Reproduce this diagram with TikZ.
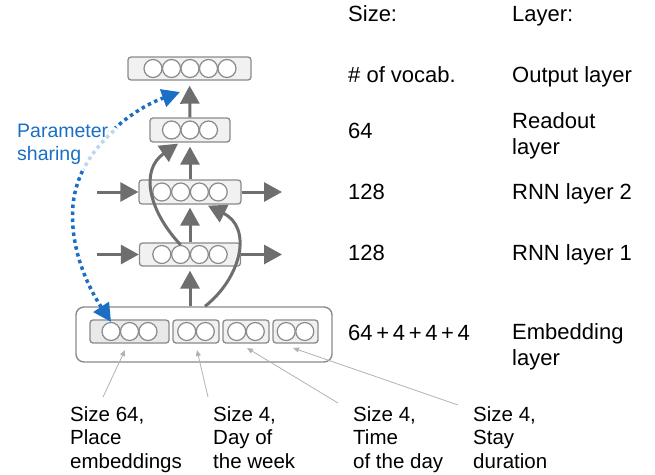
\documentclass[tikz,border=0pt]{standalone}
\usepackage{fontspec}
\setmainfont{Liberation Sans}
\usetikzlibrary{arrows.meta,calc}
\definecolor{arr}{HTML}{6E6E6E}
\definecolor{boxline}{HTML}{8A8A8A}
\definecolor{boxfill}{HTML}{F1F1F1}
\definecolor{boxfillb}{HTML}{E9E9E9}
\definecolor{pblue}{HTML}{1A6FC4}
\definecolor{plight}{HTML}{BCD7F0}
\definecolor{leadc}{HTML}{B2B2B2}
\tikzset{
  layerbox/.style={draw=boxline, fill=boxfill, line width=1.3pt, rounded corners=3pt, inner sep=0pt},
  unit/.style={circle, draw=boxline, fill=white, line width=1.2pt, minimum size=18pt, inner sep=0pt},
  flow/.style={draw=arr, line width=3pt, -{Triangle[length=18pt,width=19pt]}},
  pdots/.style={line width=3.5pt, dash pattern=on 3.5pt off 3.5pt},
  pshare/.style={draw=pblue, pdots, {Triangle[length=18pt,width=18pt]}-{Triangle[length=18pt,width=18pt]}},
  leader/.style={draw=leadc, line width=0.8pt, -{Triangle[length=6pt,width=5pt]}},
  coltext/.style={inner sep=0pt, font=\fontsize{22}{26.5}\selectfont, align=left},
  bottext/.style={inner sep=0pt, font=\fontsize{20.5}{23.5}\selectfont, align=left, anchor=north west},
  pstext/.style={inner sep=0pt, font=\fontsize{19.5}{23}\selectfont, align=left, text=pblue, anchor=north west}
}
\begin{document}
\begin{tikzpicture}[x=1pt,y=-1pt]
\useasboundingbox (0,0) rectangle (655,474);

% ---- layer boxes ----
\node[layerbox, minimum width=123pt, minimum height=23pt] (out) at (189.5,68.5) {};
\foreach \i/\x in {1/153,2/171.5,3/190,4/208.5,5/227} \node[unit] (o\i) at (\x,68.5) {};

\node[layerbox, minimum width=80pt, minimum height=24pt] (ro) at (190,130) {};
\foreach \i/\x in {1/171.5,2/190,3/208.5} \node[unit] (ru\i) at (\x,130) {};

\node[layerbox, minimum width=102pt, minimum height=24pt] (rnn2) at (190,192) {};
\foreach \i/\x in {1/161.8,2/180.6,3/199.4,4/218.2} \node[unit] (r2u\i) at (\x,192) {};

\node[layerbox, minimum width=101pt, minimum height=23pt] (rnn1) at (190,254.5) {};
\foreach \i/\x in {1/161.8,2/180.6,3/199.4,4/218.2} \node[unit] (r1u\i) at (\x,254.5) {};

\node[draw=boxline, fill=white, line width=1.4pt, rounded corners=8pt, minimum width=256pt, minimum height=55pt, inner sep=0pt] (emb) at (204,334.5) {};
\node[layerbox, fill=boxfillb, minimum width=79pt, minimum height=23pt] (e1) at (129.5,331.5) {};
\node[layerbox, minimum width=46pt, minimum height=23pt] (e2) at (196,331.5) {};
\node[layerbox, minimum width=46pt, minimum height=23pt] (e3) at (246,331.5) {};
\node[layerbox, minimum width=45pt, minimum height=23pt] (e4) at (295.5,331.5) {};
\foreach \i/\x in {1/111,2/129.5,3/148} \node[unit] (e1u\i) at (\x,331.5) {};
\foreach \i/\x in {1/186.7,2/205.3} \node[unit] (e2u\i) at (\x,331.5) {};
\foreach \i/\x in {1/236.7,2/255.3} \node[unit] (e3u\i) at (\x,331.5) {};
\foreach \i/\x in {1/286.2,2/304.8} \node[unit] (e4u\i) at (\x,331.5) {};

% ---- vertical flow ----
\draw[flow, shorten >=4pt] (emb.north -| rnn1.south) -- (rnn1.south);
\draw[flow, shorten >=3pt] (rnn1.north) -- (rnn2.south);
\draw[flow, shorten >=4pt] (rnn2.north) -- (ro.south);
\draw[flow, shorten >=5pt] (ro.north) -- (out.south);

% ---- recurrent (horizontal) arrows ----
\coordinate (l2) at (97,192);
\coordinate (r2) at (282,192);
\coordinate (l1) at (97,254.5);
\coordinate (r1) at (282,254.5);
\draw[flow] (l2) -- (rnn2.west);
\draw[flow] (rnn2.east) -- (r2);
\draw[flow] (l1) -- (rnn1.west);
\draw[flow] (rnn1.east) -- (r1);

% ---- skip connections ----
\draw[flow] (r1u2.north) .. controls (148,210) and (140,170) .. ([xshift=-12pt,yshift=-1pt]ro.south);
\draw[flow] ([xshift=1pt]emb.north) .. controls (241,278) and (253,228) .. ([xshift=18pt,yshift=-1pt]rnn2.south);

% ---- parameter sharing ----
\coordinate (psA) at (180,92);
\draw[pshare] (psA) .. controls (130,110) and (78,150) .. (73,205) .. controls (69,250) and (90,290) .. (e1u1.north);
\begin{scope}
  \clip (104,152) circle[radius=27pt];
  \draw[white, line width=6pt] (psA) .. controls (130,110) and (78,150) .. (73,205) .. controls (69,250) and (90,290) .. (e1u1.north);
  \draw[plight, pdots] (psA) .. controls (130,110) and (78,150) .. (73,205) .. controls (69,250) and (90,290) .. (e1u1.north);
\end{scope}
\node[pstext] (pslab) at (17,124) {Parameter\\sharing};

% ---- right column ----
\node[coltext, anchor=base west] (hsize) at (348,21) {Size:};
\node[coltext, anchor=base west] (hlayer) at (512,21) {Layer:};
\node[coltext, anchor=base west] (s1) at (348,82) {\# of vocab.};
\node[coltext, anchor=base west] (n1) at (512,82) {Output layer};
\node[coltext, anchor=base west] (s2) at (348,138) {64};
\node[coltext, anchor=north west] (n2) at (512,112) {Readout\\layer};
\node[coltext, anchor=base west] (s3) at (348,199) {128};
\node[coltext, anchor=base west] (n3) at (512,199) {RNN layer 2};
\node[coltext, anchor=base west] (s4) at (348,260) {128};
\node[coltext, anchor=base west] (n4) at (512,260) {RNN layer 1};
\node[coltext, anchor=base west] (s5) at (348,340) {64\,+\,4\,+\,4\,+\,4};
\node[coltext, anchor=north west] (n5) at (512,323) {Embedding\\layer};

% ---- bottom labels ----
\node[bottext] (b1) at (70,406) {Size 64,\\Place\\embeddings};
\node[bottext] (b2) at (213,406) {Size 4,\\Day of\\the week};
\node[bottext] (b3) at (353,406) {Size 4,\\Time\\of the day};
\node[bottext] (b4) at (473,406) {Size 4,\\Stay\\duration};

\coordinate (s1c) at (103,397);
\coordinate (s2c) at (208,397);
\coordinate (s3c) at (338,403);
\coordinate (s4c) at (458,405);
\coordinate (t1c) at (125,350);
\coordinate (t2c) at (197,350);
\coordinate (t3c) at (247,348);
\coordinate (t4c) at (293,348);
\draw[leader] (s1c) -- (t1c);
\draw[leader] (s2c) -- (t2c);
\draw[leader] (s3c) -- (t3c);
\draw[leader] (s4c) -- (t4c);
\end{tikzpicture}
\end{document}
